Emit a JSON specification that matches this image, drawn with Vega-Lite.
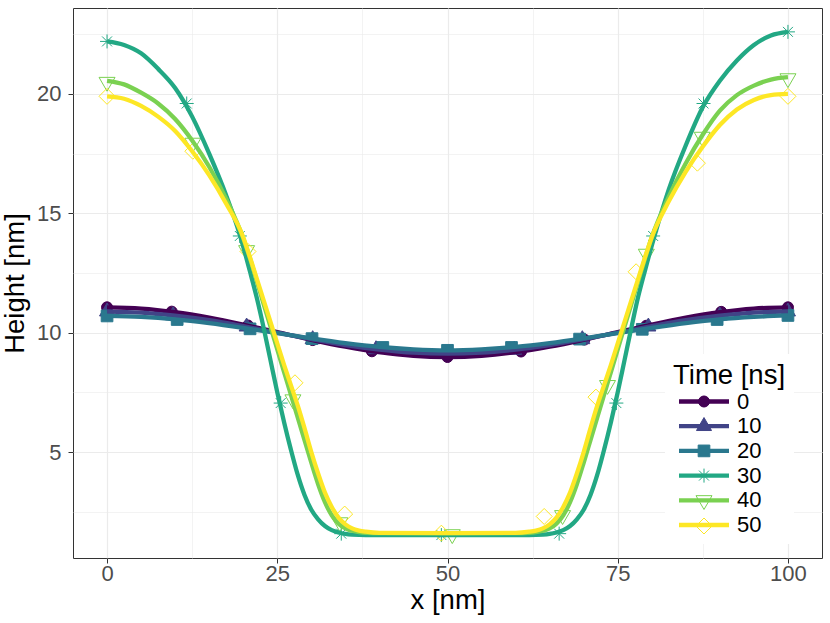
{
  "$schema": "https://vega.github.io/schema/vega-lite/v6.json",
  "width": 749,
  "height": 550,
  "autosize": {"type": "none"},
  "padding": {"left": 73, "top": 8, "right": 8, "bottom": 65},
  "background": "white",
  "config": {
    "font": "Liberation Sans",
    "view": {"stroke": "#333333", "strokeWidth": 1},
    "axis": {
      "domain": false,
      "gridColor": "#EBEBEB",
      "tickSize": 5,
      "tickWidth": 1,
      "labelColor": "#4D4D4D",
      "labelFontSize": 22,
      "labelOverlap": false,
      "labelBound": false,
      "labelFlush": false,
      "titleFontSize": 27.5,
      "titleFontWeight": "normal",
      "titleColor": "black"
    },
    "legend": {
      "orient": "none",
      "direction": "vertical",
      "legendX": 592,
      "legendY": 346,
      "padding": 8,
      "titlePadding": 1,
      "titleFontSize": 27.5,
      "titleFontWeight": "normal",
      "titleColor": "black",
      "labelFontSize": 22,
      "labelColor": "black",
      "symbolSize": 256,
      "symbolOffset": 20,
      "labelOffset": 22,
      "rowPadding": 2.7,
      "symbolOpacity": 1
    }
  },
  "datasets": {
    "curves": [
      {"Time": 0, "x": 0, "y": 11.06}, {"Time": 0, "x": 5, "y": 11.01}, {"Time": 0, "x": 10, "y": 10.86}, {"Time": 0, "x": 15, "y": 10.63},
      {"Time": 0, "x": 20, "y": 10.34}, {"Time": 0, "x": 25, "y": 10.02}, {"Time": 0, "x": 30, "y": 9.70}, {"Time": 0, "x": 35, "y": 9.41},
      {"Time": 0, "x": 40, "y": 9.18}, {"Time": 0, "x": 45, "y": 9.03}, {"Time": 0, "x": 50, "y": 8.98}, {"Time": 0, "x": 55, "y": 9.03},
      {"Time": 0, "x": 60, "y": 9.18}, {"Time": 0, "x": 65, "y": 9.41}, {"Time": 0, "x": 70, "y": 9.70}, {"Time": 0, "x": 75, "y": 10.02},
      {"Time": 0, "x": 80, "y": 10.34}, {"Time": 0, "x": 85, "y": 10.63}, {"Time": 0, "x": 90, "y": 10.86}, {"Time": 0, "x": 95, "y": 11.01},
      {"Time": 0, "x": 100, "y": 11.06},
      {"Time": 10, "x": 0, "y": 10.88}, {"Time": 10, "x": 5, "y": 10.84}, {"Time": 10, "x": 10, "y": 10.71}, {"Time": 10, "x": 15, "y": 10.52},
      {"Time": 10, "x": 20, "y": 10.27}, {"Time": 10, "x": 25, "y": 10.00}, {"Time": 10, "x": 30, "y": 9.73}, {"Time": 10, "x": 35, "y": 9.48},
      {"Time": 10, "x": 40, "y": 9.29}, {"Time": 10, "x": 45, "y": 9.16}, {"Time": 10, "x": 50, "y": 9.12}, {"Time": 10, "x": 55, "y": 9.16},
      {"Time": 10, "x": 60, "y": 9.29}, {"Time": 10, "x": 65, "y": 9.48}, {"Time": 10, "x": 70, "y": 9.73}, {"Time": 10, "x": 75, "y": 10.00},
      {"Time": 10, "x": 80, "y": 10.27}, {"Time": 10, "x": 85, "y": 10.52}, {"Time": 10, "x": 90, "y": 10.71}, {"Time": 10, "x": 95, "y": 10.84},
      {"Time": 10, "x": 100, "y": 10.88},
      {"Time": 20, "x": 0, "y": 10.70}, {"Time": 20, "x": 5, "y": 10.66}, {"Time": 20, "x": 10, "y": 10.56}, {"Time": 20, "x": 15, "y": 10.40},
      {"Time": 20, "x": 20, "y": 10.20}, {"Time": 20, "x": 25, "y": 9.98}, {"Time": 20, "x": 30, "y": 9.76}, {"Time": 20, "x": 35, "y": 9.56},
      {"Time": 20, "x": 40, "y": 9.40}, {"Time": 20, "x": 45, "y": 9.30}, {"Time": 20, "x": 50, "y": 9.26}, {"Time": 20, "x": 55, "y": 9.30},
      {"Time": 20, "x": 60, "y": 9.40}, {"Time": 20, "x": 65, "y": 9.56}, {"Time": 20, "x": 70, "y": 9.76}, {"Time": 20, "x": 75, "y": 9.98},
      {"Time": 20, "x": 80, "y": 10.20}, {"Time": 20, "x": 85, "y": 10.40}, {"Time": 20, "x": 90, "y": 10.56}, {"Time": 20, "x": 95, "y": 10.66},
      {"Time": 20, "x": 100, "y": 10.72},
      {"Time": 30, "x": 0, "y": 22.2}, {"Time": 30, "x": 2.5, "y": 22.05}, {"Time": 30, "x": 5, "y": 21.7}, {"Time": 30, "x": 7.5, "y": 21.05},
      {"Time": 30, "x": 10, "y": 20.25}, {"Time": 30, "x": 12.5, "y": 19.05}, {"Time": 30, "x": 15, "y": 17.5}, {"Time": 30, "x": 17.5, "y": 15.75},
      {"Time": 30, "x": 19.5, "y": 14.1}, {"Time": 30, "x": 21, "y": 12.55}, {"Time": 30, "x": 22, "y": 11.45}, {"Time": 30, "x": 23, "y": 10.2},
      {"Time": 30, "x": 24, "y": 8.85}, {"Time": 30, "x": 25, "y": 7.5}, {"Time": 30, "x": 26, "y": 6.25}, {"Time": 30, "x": 27, "y": 5.1},
      {"Time": 30, "x": 28, "y": 4.05}, {"Time": 30, "x": 29, "y": 3.2}, {"Time": 30, "x": 30, "y": 2.58}, {"Time": 30, "x": 31, "y": 2.18},
      {"Time": 30, "x": 32, "y": 1.9}, {"Time": 30, "x": 33, "y": 1.73}, {"Time": 30, "x": 34, "y": 1.63}, {"Time": 30, "x": 35, "y": 1.57},
      {"Time": 30, "x": 36, "y": 1.54}, {"Time": 30, "x": 38, "y": 1.52}, {"Time": 30, "x": 44, "y": 1.52}, {"Time": 30, "x": 50, "y": 1.52},
      {"Time": 30, "x": 56, "y": 1.52}, {"Time": 30, "x": 62, "y": 1.52}, {"Time": 30, "x": 64, "y": 1.54}, {"Time": 30, "x": 65, "y": 1.57},
      {"Time": 30, "x": 66, "y": 1.63}, {"Time": 30, "x": 67, "y": 1.73}, {"Time": 30, "x": 68, "y": 1.9}, {"Time": 30, "x": 69, "y": 2.18},
      {"Time": 30, "x": 70, "y": 2.58}, {"Time": 30, "x": 71, "y": 3.2}, {"Time": 30, "x": 72, "y": 4.05}, {"Time": 30, "x": 73, "y": 5.1},
      {"Time": 30, "x": 74, "y": 6.25}, {"Time": 30, "x": 75, "y": 7.5}, {"Time": 30, "x": 76, "y": 8.85}, {"Time": 30, "x": 77, "y": 10.2},
      {"Time": 30, "x": 78, "y": 11.5}, {"Time": 30, "x": 79, "y": 12.6}, {"Time": 30, "x": 80.5, "y": 14.15}, {"Time": 30, "x": 82.5, "y": 16.0},
      {"Time": 30, "x": 85, "y": 17.85}, {"Time": 30, "x": 87.5, "y": 19.45}, {"Time": 30, "x": 90, "y": 20.55}, {"Time": 30, "x": 92.5, "y": 21.4},
      {"Time": 30, "x": 95, "y": 22.05}, {"Time": 30, "x": 97.5, "y": 22.45}, {"Time": 30, "x": 100, "y": 22.6},
      {"Time": 40, "x": 0, "y": 20.55}, {"Time": 40, "x": 2.5, "y": 20.4}, {"Time": 40, "x": 5, "y": 20.05}, {"Time": 40, "x": 7.5, "y": 19.6},
      {"Time": 40, "x": 10, "y": 18.95}, {"Time": 40, "x": 12.5, "y": 18.05}, {"Time": 40, "x": 15, "y": 16.95}, {"Time": 40, "x": 17.5, "y": 15.6},
      {"Time": 40, "x": 20, "y": 13.95}, {"Time": 40, "x": 21, "y": 13.1}, {"Time": 40, "x": 22, "y": 12.15}, {"Time": 40, "x": 23, "y": 11.2},
      {"Time": 40, "x": 24, "y": 10.25}, {"Time": 40, "x": 25, "y": 9.3}, {"Time": 40, "x": 26, "y": 8.35}, {"Time": 40, "x": 27, "y": 7.4},
      {"Time": 40, "x": 28, "y": 6.45}, {"Time": 40, "x": 29, "y": 5.5}, {"Time": 40, "x": 30, "y": 4.55}, {"Time": 40, "x": 31, "y": 3.65},
      {"Time": 40, "x": 32, "y": 2.9}, {"Time": 40, "x": 33, "y": 2.35}, {"Time": 40, "x": 34, "y": 2.0}, {"Time": 40, "x": 35, "y": 1.8},
      {"Time": 40, "x": 36, "y": 1.7}, {"Time": 40, "x": 37, "y": 1.64}, {"Time": 40, "x": 38, "y": 1.61}, {"Time": 40, "x": 40, "y": 1.6},
      {"Time": 40, "x": 50, "y": 1.6}, {"Time": 40, "x": 60, "y": 1.6}, {"Time": 40, "x": 62, "y": 1.61}, {"Time": 40, "x": 63, "y": 1.64},
      {"Time": 40, "x": 64, "y": 1.7}, {"Time": 40, "x": 65, "y": 1.8}, {"Time": 40, "x": 66, "y": 2.0}, {"Time": 40, "x": 67, "y": 2.35},
      {"Time": 40, "x": 68, "y": 2.9}, {"Time": 40, "x": 69, "y": 3.65}, {"Time": 40, "x": 70, "y": 4.55}, {"Time": 40, "x": 71, "y": 5.5},
      {"Time": 40, "x": 72, "y": 6.45}, {"Time": 40, "x": 73, "y": 7.4}, {"Time": 40, "x": 74, "y": 8.35}, {"Time": 40, "x": 75, "y": 9.3},
      {"Time": 40, "x": 76, "y": 10.25}, {"Time": 40, "x": 77, "y": 11.2}, {"Time": 40, "x": 78, "y": 12.15}, {"Time": 40, "x": 79, "y": 13.1},
      {"Time": 40, "x": 80, "y": 14.0}, {"Time": 40, "x": 82.5, "y": 15.7}, {"Time": 40, "x": 85, "y": 17.1}, {"Time": 40, "x": 87.5, "y": 18.3},
      {"Time": 40, "x": 90, "y": 19.3}, {"Time": 40, "x": 92.5, "y": 19.95}, {"Time": 40, "x": 95, "y": 20.35}, {"Time": 40, "x": 97.5, "y": 20.6},
      {"Time": 40, "x": 100, "y": 20.7},
      {"Time": 50, "x": 0, "y": 19.9}, {"Time": 50, "x": 2.5, "y": 19.8}, {"Time": 50, "x": 5, "y": 19.5}, {"Time": 50, "x": 7.5, "y": 19.05},
      {"Time": 50, "x": 10, "y": 18.45}, {"Time": 50, "x": 12.5, "y": 17.6}, {"Time": 50, "x": 15, "y": 16.6}, {"Time": 50, "x": 17.5, "y": 15.4},
      {"Time": 50, "x": 20, "y": 14.0}, {"Time": 50, "x": 21, "y": 13.15}, {"Time": 50, "x": 22, "y": 12.25}, {"Time": 50, "x": 23, "y": 11.35},
      {"Time": 50, "x": 24, "y": 10.45}, {"Time": 50, "x": 25, "y": 9.55}, {"Time": 50, "x": 26, "y": 8.65}, {"Time": 50, "x": 27, "y": 7.8},
      {"Time": 50, "x": 28, "y": 6.95}, {"Time": 50, "x": 29, "y": 6.0}, {"Time": 50, "x": 30, "y": 5.0}, {"Time": 50, "x": 31, "y": 4.1},
      {"Time": 50, "x": 32, "y": 3.3}, {"Time": 50, "x": 33, "y": 2.7}, {"Time": 50, "x": 34, "y": 2.25}, {"Time": 50, "x": 35, "y": 1.97},
      {"Time": 50, "x": 36, "y": 1.8}, {"Time": 50, "x": 37, "y": 1.71}, {"Time": 50, "x": 38, "y": 1.66}, {"Time": 50, "x": 40, "y": 1.61},
      {"Time": 50, "x": 50, "y": 1.6}, {"Time": 50, "x": 60, "y": 1.61}, {"Time": 50, "x": 62, "y": 1.66}, {"Time": 50, "x": 63, "y": 1.71},
      {"Time": 50, "x": 64, "y": 1.8}, {"Time": 50, "x": 65, "y": 1.97}, {"Time": 50, "x": 66, "y": 2.25}, {"Time": 50, "x": 67, "y": 2.7},
      {"Time": 50, "x": 68, "y": 3.3}, {"Time": 50, "x": 69, "y": 4.1}, {"Time": 50, "x": 70, "y": 5.0}, {"Time": 50, "x": 71, "y": 6.0},
      {"Time": 50, "x": 72, "y": 6.95}, {"Time": 50, "x": 73, "y": 7.8}, {"Time": 50, "x": 74, "y": 8.65}, {"Time": 50, "x": 75, "y": 9.55},
      {"Time": 50, "x": 76, "y": 10.45}, {"Time": 50, "x": 77, "y": 11.35}, {"Time": 50, "x": 78, "y": 12.25}, {"Time": 50, "x": 79, "y": 13.15},
      {"Time": 50, "x": 80, "y": 14.0}, {"Time": 50, "x": 82.5, "y": 15.5}, {"Time": 50, "x": 85, "y": 16.75}, {"Time": 50, "x": 87.5, "y": 17.8},
      {"Time": 50, "x": 90, "y": 18.7}, {"Time": 50, "x": 92.5, "y": 19.35}, {"Time": 50, "x": 95, "y": 19.75}, {"Time": 50, "x": 97.5, "y": 19.95},
      {"Time": 50, "x": 100, "y": 20.0}
    ],
    "markers": [
      {"Time": 0, "x": 0, "y": 11.06}, {"Time": 0, "x": 9.5, "y": 10.88}, {"Time": 0, "x": 20.7, "y": 10.30}, {"Time": 0, "x": 30.2, "y": 9.69},
      {"Time": 0, "x": 38.9, "y": 9.22}, {"Time": 0, "x": 50, "y": 8.98}, {"Time": 0, "x": 60.8, "y": 9.21}, {"Time": 0, "x": 70.1, "y": 9.71},
      {"Time": 0, "x": 79.2, "y": 10.29}, {"Time": 0, "x": 90.2, "y": 10.87}, {"Time": 0, "x": 100, "y": 11.06},
      {"Time": 10, "x": 0, "y": 10.88}, {"Time": 10, "x": 9.7, "y": 10.72}, {"Time": 10, "x": 20.5, "y": 10.25}, {"Time": 10, "x": 30.2, "y": 9.72},
      {"Time": 10, "x": 39.5, "y": 9.30}, {"Time": 10, "x": 50, "y": 9.12}, {"Time": 10, "x": 59.8, "y": 9.28}, {"Time": 10, "x": 69.8, "y": 9.72},
      {"Time": 10, "x": 79.5, "y": 10.25}, {"Time": 10, "x": 90, "y": 10.71}, {"Time": 10, "x": 100, "y": 10.88},
      {"Time": 20, "x": 0, "y": 10.70}, {"Time": 20, "x": 10.3, "y": 10.55}, {"Time": 20, "x": 21, "y": 10.16}, {"Time": 20, "x": 30.1, "y": 9.75},
      {"Time": 20, "x": 40.5, "y": 9.38}, {"Time": 20, "x": 50, "y": 9.26}, {"Time": 20, "x": 59.4, "y": 9.38}, {"Time": 20, "x": 69.4, "y": 9.73},
      {"Time": 20, "x": 78.6, "y": 10.14}, {"Time": 20, "x": 89.6, "y": 10.55}, {"Time": 20, "x": 100, "y": 10.72},
      {"Time": 30, "x": 0, "y": 22.2}, {"Time": 30, "x": 11.7, "y": 19.6}, {"Time": 30, "x": 19.5, "y": 14.05}, {"Time": 30, "x": 25.5, "y": 7.05},
      {"Time": 30, "x": 34.4, "y": 1.58}, {"Time": 30, "x": 49.1, "y": 1.52}, {"Time": 30, "x": 66.4, "y": 1.58}, {"Time": 30, "x": 74.8, "y": 7.05},
      {"Time": 30, "x": 80.2, "y": 14.05}, {"Time": 30, "x": 87.6, "y": 19.6}, {"Time": 30, "x": 100, "y": 22.6},
      {"Time": 40, "x": 0, "y": 20.5}, {"Time": 40, "x": 12.6, "y": 17.95}, {"Time": 40, "x": 20.5, "y": 13.45}, {"Time": 40, "x": 27.3, "y": 7.2},
      {"Time": 40, "x": 34.2, "y": 2.05}, {"Time": 40, "x": 50.7, "y": 1.55}, {"Time": 40, "x": 66.9, "y": 2.35}, {"Time": 40, "x": 73.5, "y": 7.8},
      {"Time": 40, "x": 79.2, "y": 13.3}, {"Time": 40, "x": 87.4, "y": 18.2}, {"Time": 40, "x": 100, "y": 20.65},
      {"Time": 50, "x": 0, "y": 19.9}, {"Time": 50, "x": 12.6, "y": 17.6}, {"Time": 50, "x": 20.7, "y": 13.4}, {"Time": 50, "x": 27.6, "y": 7.9},
      {"Time": 50, "x": 34.9, "y": 2.4}, {"Time": 50, "x": 49.1, "y": 1.6}, {"Time": 50, "x": 64.2, "y": 2.3}, {"Time": 50, "x": 71.8, "y": 7.3},
      {"Time": 50, "x": 77.7, "y": 12.55}, {"Time": 50, "x": 86.7, "y": 17.1}, {"Time": 50, "x": 100, "y": 19.9}
    ]
  },
  "encoding": {
    "x": {
      "field": "x",
      "type": "quantitative",
      "scale": {"domain": [-5, 105], "nice": false, "zero": false},
      "axis": {
        "title": "x [nm]",
        "values": [0, 12.5, 25, 37.5, 50, 62.5, 75, 87.5, 100],
        "labelExpr": "datum.value % 25 === 0 ? format(datum.value, 'd') : ''",
        "gridWidth": {"condition": {"test": "datum.value % 25 === 0", "value": 1.2}, "value": 0.6},
        "tickColor": {"condition": {"test": "datum.value % 25 === 0", "value": "#333333"}, "value": "transparent"},
        "labelPadding": 0,
        "titlePadding": 2
      }
    },
    "y": {
      "field": "y",
      "type": "quantitative",
      "scale": {"domain": [0.56, 23.6], "nice": false, "zero": false},
      "axis": {
        "title": "Height [nm]",
        "values": [2.5, 5, 7.5, 10, 12.5, 15, 17.5, 20, 22.5],
        "labelExpr": "datum.value % 5 === 0 ? format(datum.value, 'd') : ''",
        "gridWidth": {"condition": {"test": "datum.value % 5 === 0", "value": 1.2}, "value": 0.6},
        "tickColor": {"condition": {"test": "datum.value % 5 === 0", "value": "#333333"}, "value": "transparent"},
        "labelPadding": 7,
        "titlePadding": 7
      }
    }
  },
  "layer": [
    {
      "data": {"name": "markers"},
      "mark": {"type": "point", "filled": false, "size": 256, "opacity": 1, "strokeWidth": 1},
      "encoding": {
        "color": {
          "field": "Time",
          "type": "nominal",
          "scale": {"range": ["#440154", "#414487", "#2A788E", "#22A884", "#7AD151", "#FDE725"]},
          "legend": {"title": "Time [ns]", "titleOpacity": 0, "labelOpacity": 0, "symbolStrokeWidth": 1, "zindex": 1}
        },
        "fill": {
          "field": "Time",
          "type": "nominal",
          "scale": {"range": ["#440154", "#414487", "#2A788E", "transparent", "transparent", "transparent"]},
          "legend": {"title": "Time [ns]", "titleOpacity": 0, "labelOpacity": 0, "symbolStrokeWidth": 1, "zindex": 1}
        },
        "shape": {
          "field": "Time",
          "type": "nominal",
          "scale": {
            "range": [
              "M0.69,0A0.69,0.69,0,1,1,-0.69,0A0.69,0.69,0,1,1,0.69,0Z",
              "M0,-1.08L0.94,0.54L-0.94,0.54Z",
              "M-0.73,-0.73L0.73,-0.73L0.73,0.73L-0.73,0.73Z",
              "M-0.875,0L0.875,0M0,-0.875L0,0.875M-0.62,-0.62L0.62,0.62M-0.62,0.62L0.62,-0.62",
              "M-1,-0.58L1,-0.58L0,1.15Z",
              "M0,-1L1,0L0,1L-1,0Z"
            ]
          },
          "legend": {"title": "Time [ns]", "titleOpacity": 0, "labelOpacity": 0, "symbolStrokeWidth": 1, "zindex": 1}
        }
      }
    },
    {
      "data": {"name": "curves"},
      "mark": {"type": "line", "strokeWidth": 4.3, "interpolate": "monotone"},
      "encoding": {
        "stroke": {
          "field": "Time",
          "type": "nominal",
          "scale": {
            "domain": [0, 10, 20, 30, 40, 50],
            "range": ["#440154", "#414487", "#2A788E", "#22A884", "#7AD151", "#FDE725"]
          },
          "legend": {
            "title": "Time [ns]",
            "fillColor": "white",
            "symbolType": "M-3.125,0L3.125,0",
            "symbolStrokeWidth": 4.3,
            "zindex": 0
          }
        }
      }
    }
  ]
}
